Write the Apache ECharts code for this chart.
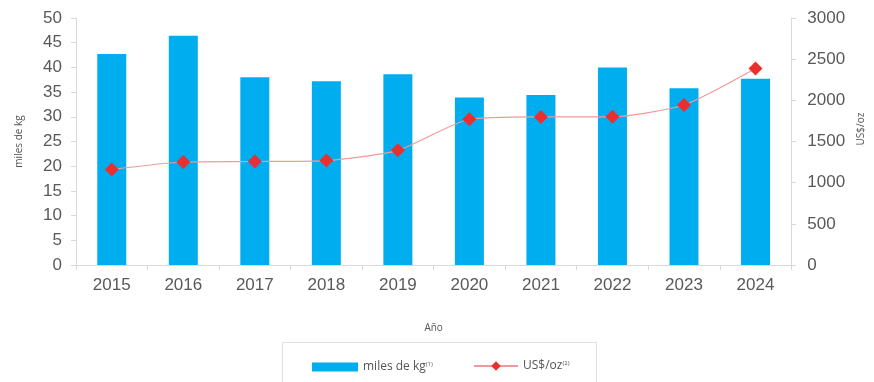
<!DOCTYPE html>
<html><head><meta charset="utf-8">
<script src="https://cdn.jsdelivr.net/npm/echarts@6/dist/echarts.min.js"></script>
<style>html,body{margin:0;padding:0;background:#fff}#c{width:874px;height:382px}</style>
</head><body><div id="c"></div>
<script>
var years = ['2015','2016','2017','2018','2019','2020','2021','2022','2023','2024'];
var milesKg = [42.7, 46.4, 38.0, 37.2, 38.6, 33.9, 34.4, 40.0, 35.8, 37.7];
var usdOz = [1160, 1251, 1257, 1268, 1393, 1770, 1799, 1800, 1943, 2386];
var leftTicks = [0, 50, 5];
var rightTicks = [0, 3000, 500];

var chart = echarts.init(document.getElementById('c'));
var axisCol = '#d9d9d9';
var lblCol = '#595959';
chart.setOption({
  animation: false,
  grid: {left: 76, right: 82, top: 18, bottom: 117, containLabel: false},
  graphic: [{type: 'rect', shape: {x: 282.5, y: 342.5, width: 314, height: 45}, style: {fill: 'none', stroke: '#e0e0e0', lineWidth: 1}}],
  legend: [
    {data: [{name: 'miles de kg', icon: 'rect'}], left: 307, top: 356, itemWidth: 46, itemHeight: 9, itemGap: 4,
     formatter: function(n){return '{a|' + n + '}{s|(1)}';},
     textStyle: {color: '#555', fontFamily: 'Open Sans', fontSize: 12, rich: {a: {fontFamily: 'Open Sans', fontSize: 12, color: '#555'}, s: {fontSize: 6, color: '#555', verticalAlign: 'top', padding: [0,0,6,0]}}}},
    {data: ['US$/oz'], left: 468, top: 355, itemWidth: 44, itemHeight: 12, itemGap: 3,
     formatter: function(n){return '{a|' + n + '}{s|(2)}';},
     textStyle: {color: '#555', fontFamily: 'Open Sans', fontSize: 12, rich: {a: {fontFamily: 'Open Sans', fontSize: 12, color: '#555'}, s: {fontSize: 6, color: '#555', verticalAlign: 'top', padding: [0,0,6,0]}}}}
  ],
  xAxis: {
    type: 'category', data: years,
    name: 'Año', nameLocation: 'middle', nameGap: 58,
    nameTextStyle: {fontFamily: 'Open Sans', fontSize: 10, color: '#555'},
    axisLine: {lineStyle: {color: axisCol}},
    axisTick: {show: true, lineStyle: {color: axisCol}, length: 5},
    axisLabel: {fontFamily: 'Liberation Sans', fontSize: 17, color: lblCol, margin: 12}
  },
  yAxis: [{
    type: 'value', min: leftTicks[0], max: leftTicks[1], interval: leftTicks[2],
    name: 'miles de kg', nameLocation: 'middle', nameGap: 52, nameRotate: 90,
    nameTextStyle: {fontFamily: 'Open Sans', fontSize: 10, color: '#555'},
    axisLine: {show: true, lineStyle: {color: axisCol}},
    axisTick: {show: true, length: 5, lineStyle: {color: axisCol}},
    splitLine: {show: false},
    axisLabel: {fontFamily: 'Liberation Sans', fontSize: 17, color: lblCol, margin: 14}
  }, {
    type: 'value', min: rightTicks[0], max: rightTicks[1], interval: rightTicks[2],
    name: 'US$/oz', nameLocation: 'middle', nameGap: 64, nameRotate: 90,
    nameTextStyle: {fontFamily: 'Open Sans', fontSize: 10, color: '#555', padding: [0,0,0,25]},
    axisLine: {show: true, lineStyle: {color: axisCol}},
    axisTick: {show: true, length: 5, lineStyle: {color: axisCol}},
    splitLine: {show: false},
    axisLabel: {fontFamily: 'Liberation Sans', fontSize: 17, color: lblCol, margin: 16, formatter: function(v){return String(v);}}
  }],
  series: [{
    name: 'miles de kg', type: 'bar', data: milesKg, barWidth: 29,
    itemStyle: {color: '#00aeef'}
  }, {
    name: 'US$/oz', type: 'line', yAxisIndex: 1, data: usdOz, smooth: 0.2,
    symbol: 'diamond', symbolSize: 14,
    lineStyle: {color: '#f29a9a', width: 1.2},
    itemStyle: {color: '#e8312f'}
  }]
});
</script></body></html>
